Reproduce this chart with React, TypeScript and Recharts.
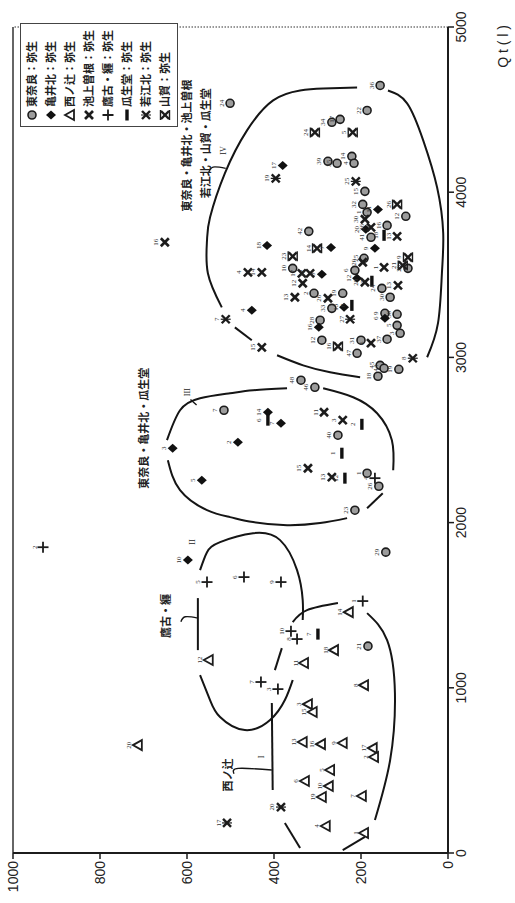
import React from 'react';
import { ComposedChart, Scatter, Line, XAxis, YAxis, ReferenceLine, LabelList, Legend } from 'recharts';

type Row = [number, number, string];
type Pt = { q: number; v: number; label: string };

const qTicks = [0, 1000, 2000, 3000, 4000, 5000];
const vTicks = [0, 200, 400, 600, 800, 1000];

// 東奈良：弥生
const higashinara: Row[] = [
  [4646, 156, '36'], [4495, 186, '22'], [4423, 267, '34'], [4441, 248, '17'], [4187, 276, '39'],
  [4175, 255, '35'], [4217, 221, '14'], [4175, 216, '4'], [4005, 191, '15'], [3926, 196, '32'],
  [3878, 186, '1'], [3854, 97, '12'], [3799, 140, '16'], [3727, 177, '41'], [3763, 320, '42'],
  [3600, 193, '25'], [3539, 92, '20'], [3539, 357, '10'], [3527, 214, '6'], [3388, 308, '2'],
  [3388, 242, '19'], [3297, 267, '33'], [3418, 152, '24'], [3364, 133, '30'], [3225, 294, '28'],
  [3267, 145, '9'], [3261, 117, '38'], [3194, 117, '5'], [3146, 110, '3'], [3104, 290, '12'],
  [3104, 200, '31'], [3110, 140, '37'], [3025, 209, '47'], [2952, 156, '45'], [2934, 147, '44'],
  [2886, 161, '18'], [2928, 113, '19'], [2862, 338, '48'], [2819, 306, '46'], [2680, 515, '7'],
  [2529, 253, '40'], [2299, 186, '1'], [2220, 159, '26'], [2075, 214, '23'], [1821, 143, '29'],
  [1252, 184, '21'], [4538, 501, '24'],
];
// 亀井北：弥生
const kameikita: Row[] = [
  [4162, 380, '17'], [3678, 416, '18'], [3666, 269, '7'], [3660, 168, '9'], [3896, 161, '11'],
  [3775, 189, '20'], [3503, 290, '8'], [3479, 209, '12'], [3285, 451, '4'], [3303, 239, '13'],
  [3237, 145, '6'], [3182, 297, '16'], [2668, 414, '14'], [2602, 384, '7'], [2487, 483, '2'],
  [2450, 633, '3'], [2257, 566, '5'], [1773, 598, '10'],
];
// 西ノ辻：弥生
const nishinotsuji: Row[] = [
  [1458, 228, '14'], [1228, 262, '18'], [1150, 331, '11'], [1168, 550, '12'], [1016, 193, '8'],
  [901, 322, '3'], [853, 311, '15'], [672, 334, '13'], [659, 292, '16'], [666, 242, '9'],
  [635, 173, '17'], [581, 170, '2'], [502, 271, '5'], [436, 329, '6'], [405, 274, '10'],
  [339, 290, '19'], [345, 198, '7'], [163, 281, '4'], [121, 193, '1'], [653, 713, '20'],
];
// 池上曽根：弥生
const ikegamisone: Row[] = [
  [3697, 651, '16'], [3061, 428, '15'], [3515, 460, '4'], [3515, 428, '14'], [3836, 191, '30'],
  [3733, 117, '13'], [3787, 177, '36'], [3509, 336, '17'], [3509, 317, '12'], [3545, 147, '1'],
  [3455, 191, '28'], [3436, 115, '13'], [3449, 334, '12'], [3364, 352, '13'], [3358, 276, '26'],
  [3086, 177, '6'], [2668, 285, '11'], [2620, 242, '3'], [2329, 322, '15'], [2275, 267, '13'],
  [3576, 196, '20'],
];
// 鷹古・纒：弥生
const takafuru: Row[] = [
  [1851, 931, '2'], [1640, 554, '5'], [1670, 469, '6'], [1640, 384, '9'], [1525, 196, '1'],
  [1343, 361, '10'], [1295, 347, '8'], [1035, 430, '7'], [992, 391, '3'], [2269, 168, '4'],
];
// 瓜生堂：弥生
const uryudo: Row[] = [
  [1325, 299, '7'], [2595, 198, '2'], [2420, 244, '1'], [2269, 237, '12'], [2620, 414, '6'],
  [3315, 221, '8'], [3739, 147, '18'], [3461, 175, '5'],
];
// 若江北：弥生
const wakaekita: Row[] = [
  [3231, 511, '7'], [4084, 396, '19'], [4066, 212, '25'], [3231, 225, '27'], [2995, 81, '8'],
  [278, 384, '20'], [182, 508, '17'],
];
// 山賀：弥生
const yamaga: Row[] = [
  [4362, 306, '24'], [4362, 219, '5'], [3926, 117, '26'], [3660, 301, '14'], [3612, 357, '23'],
  [3606, 92, '9'], [3557, 104, '21'], [3067, 253, '16'],
];

// group outlines (I - IV), broken where labels / points sit
type Seg = [number, number][];
const curveI: Seg[] = [
  [[1398, 357], [1470, 324], [1513, 253]],
  [[1452, 186], [1289, 140], [968, 122], [563, 133], [200, 168]],
  [[97, 191], [18, 242]],
  [[30, 340], [182, 375]],
  [[381, 403], [908, 405]],
  [[1107, 398], [1240, 382]],
];
const curveII: Seg[] = [
  [[1712, 570], [1821, 554], [1882, 524], [1936, 448], [1894, 386], [1712, 347], [1531, 334], [1410, 334]],
  [[1543, 575], [1228, 575]],
  [[1077, 570], [926, 547], [823, 524], [744, 467], [805, 409], [926, 375], [1047, 357]],
];
const curveIII: Seg[] = [
  [[2499, 646], [2680, 616], [2753, 570], [2783, 501], [2801, 448], [2813, 370]],
  [[2813, 287], [2759, 218], [2662, 163], [2499, 129], [2317, 126]],
  [[2178, 150], [2087, 186]],
  [[2027, 232], [1997, 294], [1984, 370], [2003, 448], [2033, 501], [2075, 554], [2196, 616], [2378, 644]],
];
const curveIV: Seg[] = [
  [[3303, 520], [3509, 552], [3709, 554], [3848, 547], [4114, 513], [4374, 462], [4556, 402], [4616, 340], [4628, 287], [4634, 209]],
  [[4616, 138], [4538, 94], [4314, 57], [4029, 25], [3751, 11], [3509, 14], [3207, 23], [3001, 48]],
  [[3182, 490], [3104, 451]],
  [[3013, 393], [2952, 333], [2910, 271], [2880, 202]],
];
const pointers: Seg[] = [
  [[4120, 550], [4152, 540], [4144, 511]],
  [[1400, 614], [1430, 604], [1422, 575]],
  [[480, 492], [512, 482], [502, 405]],
  [[2745, 592], [2712, 578]],
];

type Note = { q: number; v: number; text: string; size: number; cjk: boolean };
const groupNotes: Note[] = [
  { q: 2571, v: 702, text: '東奈良・亀井北・瓜生堂', size: 11, cjk: true },
  { q: 4283, v: 602, text: '東奈良・亀井北・池上曽根', size: 11, cjk: true },
  { q: 4296, v: 559, text: '若江北・山賀・瓜生堂', size: 11, cjk: true },
  { q: 1434, v: 651, text: '鷹古・纒', size: 11, cjk: true },
  { q: 472, v: 508, text: '西ノ辻', size: 11, cjk: true },
  { q: 581, v: 428, text: 'I', size: 8, cjk: false },
  { q: 1882, v: 588, text: 'II', size: 8, cjk: false },
  { q: 2789, v: 600, text: 'III', size: 8, cjk: false },
  { q: 4253, v: 515, text: 'IV', size: 8, cjk: false },
];

const toPts = (rows: Row[]): Pt[] => rows.map(([q, v, label]) => ({ q, v, label }));
const toSeg = (s: Seg) => s.map(([q, v]) => ({ q, v }));

type Kind = 'circle' | 'diamond' | 'triangle' | 'x' | 'plus' | 'bar' | 'x2' | 'x3';

const SERIES: { name: string; rows: Row[]; kind: Kind }[] = [
  { name: '東奈良：弥生', rows: higashinara, kind: 'circle' },
  { name: '亀井北：弥生', rows: kameikita, kind: 'diamond' },
  { name: '西ノ辻：弥生', rows: nishinotsuji, kind: 'triangle' },
  { name: '池上曽根：弥生', rows: ikegamisone, kind: 'x' },
  { name: '鷹古・纒：弥生', rows: takafuru, kind: 'plus' },
  { name: '瓜生堂：弥生', rows: uryudo, kind: 'bar' },
  { name: '若江北：弥生', rows: wakaekita, kind: 'x2' },
  { name: '山賀：弥生', rows: yamaga, kind: 'x3' },
];

const INK = '#1c1c1c';

function marker(kind: Kind, cx: number, cy: number) {
  if (cx == null || cy == null || isNaN(cx) || isNaN(cy)) return <g />;
  const s = 4;
  switch (kind) {
    case 'circle':
      return <circle cx={cx} cy={cy} r={4} fill="#9c9c9c" stroke={INK} strokeWidth={1.6} />;
    case 'diamond':
      return <path d={`M${cx} ${cy - 5}L${cx + 4.5} ${cy}L${cx} ${cy + 5}L${cx - 4.5} ${cy}Z`} fill="#111" />;
    case 'triangle':
      return <path d={`M${cx} ${cy - 5}L${cx + 5} ${cy + 4}L${cx - 5} ${cy + 4}Z`} fill="#fff" stroke={INK} strokeWidth={1.8} />;
    case 'plus':
      return (
        <g stroke={INK} strokeWidth={1.8}>
          <line x1={cx - 5.5} y1={cy} x2={cx + 5.5} y2={cy} />
          <line x1={cx} y1={cy - 5.5} x2={cx} y2={cy + 5.5} />
        </g>
      );
    case 'bar':
      return <rect x={cx - 5.5} y={cy - 1.7} width={11} height={3.4} fill="#111" />;
    case 'x2':
      return (
        <g stroke={INK} strokeWidth={2.4}>
          <line x1={cx - s} y1={cy - s} x2={cx + s} y2={cy + s} />
          <line x1={cx - s} y1={cy + s} x2={cx + s} y2={cy - s} />
          <line x1={cx} y1={cy - s - 1} x2={cx} y2={cy + s + 1} strokeWidth={1.2} />
        </g>
      );
    case 'x3':
      return (
        <g stroke={INK} strokeWidth={2.4}>
          <line x1={cx - s} y1={cy - s} x2={cx + s} y2={cy + s} />
          <line x1={cx - s} y1={cy + s} x2={cx + s} y2={cy - s} />
          <line x1={cx - s - 1} y1={cy - s - 0.5} x2={cx + s + 1} y2={cy - s - 0.5} strokeWidth={1.4} />
          <line x1={cx - s - 1} y1={cy + s + 0.5} x2={cx + s + 1} y2={cy + s + 0.5} strokeWidth={1.4} />
        </g>
      );
    default:
      return (
        <g stroke={INK} strokeWidth={2.6}>
          <line x1={cx - s} y1={cy - s} x2={cx + s} y2={cy + s} />
          <line x1={cx - s} y1={cy + s} x2={cx + s} y2={cy - s} />
        </g>
      );
  }
}

const CJK = '"Noto Sans CJK JP", "Noto Sans CJK SC", sans-serif';

function LegendBox() {
  return (
    <div
      style={{
        width: 104,
        height: 158,
        boxSizing: 'border-box',
        border: '1.5px solid #444',
        background: '#fff',
        paddingTop: 1,
      }}
    >
      {SERIES.map((s) => (
        <div key={s.name} style={{ height: 19, display: 'flex', alignItems: 'center' }}>
          <svg width={19} height={14} style={{ flex: 'none' }}>
            {marker(s.kind, 11, 7)}
          </svg>
          <span
            style={{
              fontFamily: CJK,
              fontWeight: 700,
              fontSize: 11,
              color: '#222',
              whiteSpace: 'nowrap',
              lineHeight: '13px',
            }}
          >
            {s.name}
          </span>
        </div>
      ))}
    </div>
  );
}

const noteShape = (p: any) => {
  const d: Note = p.payload;
  if (p.cx == null || p.cy == null) return <g />;
  return (
    <text
      x={p.cx}
      y={p.cy}
      textAnchor="middle"
      dominantBaseline="central"
      fontSize={d.size}
      fontWeight={d.cjk ? 700 : 400}
      fontFamily={d.cjk ? CJK : '"Liberation Serif", serif'}
      fill="#222"
    >
      {d.text}
    </text>
  );
};

const tickStyle = { fontSize: 14, fill: '#222', fontFamily: '"Liberation Sans", Arial, sans-serif' };

export default function App() {
  const allSegs: { key: string; data: { q: number; v: number }[]; w: number; type: 'natural' | 'linear' }[] = [];
  [curveI, curveII, curveIII, curveIV].forEach((c, ci) =>
    c.forEach((s, si) => allSegs.push({ key: `c${ci}-${si}`, data: toSeg(s), w: 2, type: 'natural' })),
  );
  pointers.forEach((s, si) => allSegs.push({ key: `p${si}`, data: toSeg(s), w: 1.4, type: 'natural' }));

  return (
    <div style={{ position: 'absolute', left: 0, top: 0, width: 515, height: 903, overflow: 'hidden', background: '#fff' }}>
      <div
        style={{
          position: 'absolute',
          left: 0,
          top: 0,
          width: 903,
          height: 515,
          transformOrigin: '0 0',
          transform: 'translateY(903px) rotate(-90deg)',
        }}
      >
        <ComposedChart width={903} height={515} margin={{ top: 13, right: 27, bottom: 0, left: 0 }}>
          <XAxis
            type="number"
            dataKey="q"
            domain={[0, 5000]}
            ticks={qTicks}
            allowDataOverflow
            height={67}
            stroke={INK}
            strokeWidth={2}
            tickLine={{ stroke: INK, strokeWidth: 1.5 }}
            tick={tickStyle}
            label={(props: any) => {
              const vb = props.viewBox || {};
              return (
                <text
                  x={(vb.x ?? 50) + (vb.width ?? 826) + 2}
                  y={(vb.y ?? 448) + 60}
                  textAnchor="end"
                  fontSize={14}
                  fill="#222"
                  fontFamily='"Liberation Sans", Arial, sans-serif'
                >
                  Q t ( l )
                </text>
              );
            }}
          />
          <YAxis
            type="number"
            dataKey="v"
            domain={[0, 1000]}
            ticks={vTicks}
            allowDataOverflow
            width={50}
            stroke={INK}
            strokeWidth={2}
            tickLine={{ stroke: INK, strokeWidth: 1.5 }}
            tick={tickStyle}
          />
          <ReferenceLine y={1000} stroke="#333" strokeWidth={1.5} />
          <ReferenceLine x={5000} stroke="#777" strokeWidth={1.3} strokeDasharray="1.5 1.5" />
          {allSegs.map((s) => (
            <Line
              key={s.key}
              data={s.data}
              dataKey="v"
              type={s.type}
              stroke="#151515"
              strokeWidth={s.w}
              dot={false}
              activeDot={false}
              legendType="none"
              isAnimationActive={false}
            />
          ))}
          {SERIES.map((s) => (
            <Scatter
              key={s.name}
              name={s.name}
              data={toPts(s.rows)}
              dataKey="v"
              isAnimationActive={false}
              shape={(p: any) => marker(s.kind, p.cx, p.cy)}
            >
              <LabelList
                dataKey="label"
                position="top"
                offset={2}
                fontSize={7}
                fill="#333"
                fontFamily='"Liberation Serif", serif'
              />
            </Scatter>
          ))}
          <Scatter data={groupNotes} dataKey="v" legendType="none" isAnimationActive={false} shape={noteShape} />
          <Legend
            layout="vertical"
            align="center"
            verticalAlign="middle"
            wrapperStyle={{ position: 'absolute', left: 776, top: 20, width: 104, height: 158 }}
            content={() => <LegendBox />}
          />
        </ComposedChart>
      </div>
    </div>
  );
}
